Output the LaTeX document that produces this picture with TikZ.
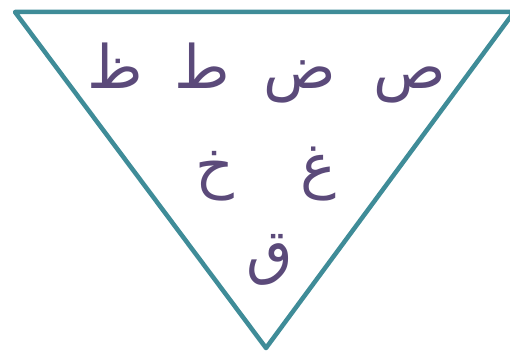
\documentclass[tikz,border=0pt]{standalone}
\usepackage{fontspec}
\usetikzlibrary{positioning}
\TeXXeTstate=1
\newfontfamily\arabicfont[Script=Arabic]{DejaVu Sans}
\definecolor{tealline}{HTML}{3F8C98}
\definecolor{plum}{HTML}{5B4A7A}
\tikzset{
  letter/.style={font=\arabicfont\fontsize{60}{68}\selectfont,text=plum,inner sep=0pt,anchor=base},
  frame/.style={draw=tealline,line width=4.5pt,line join=round}
}
\begin{document}
\begin{tikzpicture}[x=1pt,y=-1pt]
  \useasboundingbox (0,0) rectangle (510,353);
  \coordinate (tl) at (15,12);
  \coordinate (tr) at (514,12);
  \coordinate (bot) at (266,348);
  \draw[frame] (tl)--(tr)--(bot)--cycle;

  % top row
  \node[letter] (zah) at (115,88) {\beginR ظ\endR};
  \node[letter] (tah) at (202,88) {\beginR ط\endR};
  \node[letter] (dad) at (300,88) {\beginR ض\endR};
  \node[letter] (sad) at (410,88) {\beginR ص\endR};
  % middle row
  \node[letter] (khah) at (215,186) {\beginR خ\endR};
  \node[letter] (ghain) at (318,186) {\beginR غ\endR};
  % bottom
  \node[letter] (qaf) at (270,272) {\beginR ق\endR};
\end{tikzpicture}
\end{document}
